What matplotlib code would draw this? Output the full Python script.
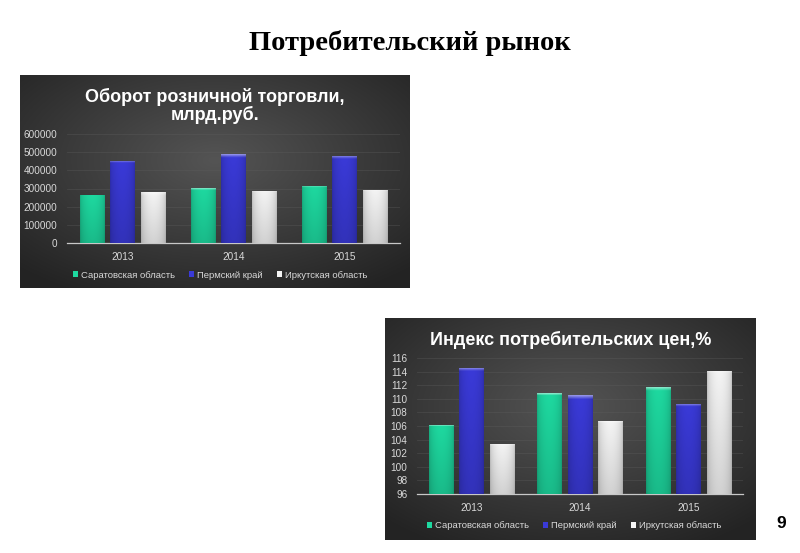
import numpy as np
import matplotlib
matplotlib.use("Agg")
import matplotlib.pyplot as plt
from matplotlib.colors import to_rgb

# ---------------- data ----------------
years = ["2013", "2014", "2015"]
series_names = ["Саратовская область", "Пермский край", "Иркутская область"]

turnover_saratov = [266000, 302000, 315000]
turnover_perm = [452000, 489000, 480000]
turnover_irkutsk = [278000, 288000, 293000]
turnover_ticks = [0, 100000, 200000, 300000, 400000, 500000, 600000]

cpi_saratov = [106.1, 110.8, 111.7]
cpi_perm = [114.6, 110.5, 109.3]
cpi_irkutsk = [103.4, 106.7, 114.1]
cpi_ticks = [96, 98, 100, 102, 104, 106, 108, 110, 112, 114, 116]

title_main = "Потребительский рынок"
title_top = "Оборот розничной торговли,\nмлрд.руб."
title_bottom = "Индекс потребительских цен,%"
page_no = "9"

colors = ["#1ed9a0", "#3a3ad8", "#f4f4f4"]

W, H = 800, 553
fig = plt.figure(figsize=(W / 100, H / 100), dpi=100)
fig.patch.set_facecolor("white")


def fbox(x0, y0, x1, y1):
    """pixel box (top-left origin) -> figure fraction rect"""
    return [x0 / W, 1 - y1 / H, (x1 - x0) / W, (y1 - y0) / H]


def panel_bg(rect):
    ax = fig.add_axes(rect)
    ny, nx = 200, 300
    yy, xx = np.mgrid[0:1:ny * 1j, 0:1:nx * 1j]
    r = np.sqrt(((xx - 0.5) / 0.75) ** 2 + ((yy - 0.6) / 0.75) ** 2)
    t = np.clip(r / 0.95, 0, 1)
    c_in = np.array([0.33, 0.33, 0.33])
    c_out = np.array([0.14, 0.14, 0.14])
    img = c_in[None, None, :] * (1 - t[..., None]) + c_out[None, None, :] * t[..., None]
    ax.imshow(img, extent=[0, 1, 0, 1], aspect="auto", origin="lower")
    ax.set_axis_off()
    return ax


def shade_bars(ax, bars, color, ymin):
    base = np.array(to_rgb(color))
    nx, ny = 40, 100
    xs = np.linspace(0, 1, nx)
    side = 0.80 + 0.20 * np.sin(np.pi * xs) ** 0.5
    for b in bars:
        x, w, y0, h = b.get_x(), b.get_width(), b.get_y(), b.get_height()
        if h <= 0:
            continue
        p0 = ax.transData.transform((x, y0))
        p1 = ax.transData.transform((x, y0 + h))
        hpx = max(p1[1] - p0[1], 1)
        ys = np.linspace(0, 1, ny)
        vert = 0.86 + 0.14 * ys
        bevel = np.clip((ys - (1 - 4.0 / hpx)) / (4.0 / hpx), 0, 1)
        img = base[None, None, :] * side[None, :, None] * vert[:, None, None]
        img = img + (1 - img) * 0.45 * bevel[:, None, None]
        img = np.clip(img, 0, 1)
        im = ax.imshow(img, extent=[x, x + w, y0, y0 + h], aspect="auto",
                       origin="lower", zorder=3, interpolation="bilinear")
        im.set_clip_path(b)


def chart(rect_px, plot_px, data, ticks, ymin, ymax, title, title_xy,
          leg_xy, bar_w, step, title_size, colspacing):
    panel_bg(fbox(*rect_px))
    ax = fig.add_axes(fbox(*plot_px))
    ax.set_facecolor("none")
    x = np.arange(len(years))
    for i, (vals, c, name) in enumerate(zip(data, colors, series_names)):
        off = (i - 1) * step
        bars = ax.bar(x + off, np.array(vals) - ymin, bottom=ymin, width=bar_w,
                      color=c, label=name, zorder=2, linewidth=0)
        shade_bars(ax, bars, c, ymin)
    ax.set_xlim(-0.5, len(years) - 0.5)
    ax.set_ylim(ymin, ymax)
    ax.set_yticks(ticks)
    ax.set_yticklabels([str(t) for t in ticks])
    ax.set_xticks(x)
    ax.set_xticklabels(years)
    for s in ["top", "right", "left"]:
        ax.spines[s].set_visible(False)
    ax.spines["bottom"].set_color("#c8c8c8")
    ax.spines["bottom"].set_linewidth(0.9)
    ax.tick_params(axis="both", length=0, colors="#d9d9d9", labelsize=7.2)
    ax.tick_params(axis="y", pad=7)
    ax.tick_params(axis="x", pad=6.5)
    for lab in ax.get_xticklabels() + ax.get_yticklabels():
        lab.set_family("Liberation Sans")
    ax.yaxis.grid(True, color="#5e5e5e", linewidth=0.6, alpha=0.4, zorder=0)
    ax.set_axisbelow(True)
    ax.legend(loc="center", bbox_to_anchor=(leg_xy[0] / W, 1 - leg_xy[1] / H),
              bbox_transform=fig.transFigure, ncol=3, frameon=False,
              handlelength=0.55, handleheight=0.55,
              handletextpad=0.3, columnspacing=colspacing, labelcolor="#d9d9d9",
              prop={"family": "Liberation Sans", "size": 6.8})
    fig.text(title_xy[0] / W, 1 - title_xy[1] / H, title, ha="center", va="center",
             color="white", fontsize=title_size, fontweight="bold",
             family="Liberation Sans", linespacing=1.05)
    return ax


# top chart
chart((20, 75, 410, 288), (67, 134, 400, 243),
      [turnover_saratov, turnover_perm, turnover_irkutsk], turnover_ticks,
      0, 600000, title_top, (215, 106), (220, 275), 0.22, 0.276, 13, 1.5)

# bottom chart
chart((385, 318, 756, 540), (417, 358, 743, 494),
      [cpi_saratov, cpi_perm, cpi_irkutsk], cpi_ticks,
      96, 116, title_bottom, (571, 339.5), (574, 526), 0.225, 0.28, 13, 1.5)

fig.text(410 / W, 1 - 43 / H, title_main, ha="center", va="center",
         fontsize=20.5, fontweight="bold", family="Liberation Serif", color="black")
fig.text(781 / W, 1 - 524 / H, page_no, ha="center", va="center",
         fontsize=12.5, fontweight="bold", family="Liberation Sans", color="black")

fig.savefig("out.png", dpi=100, facecolor="white")
